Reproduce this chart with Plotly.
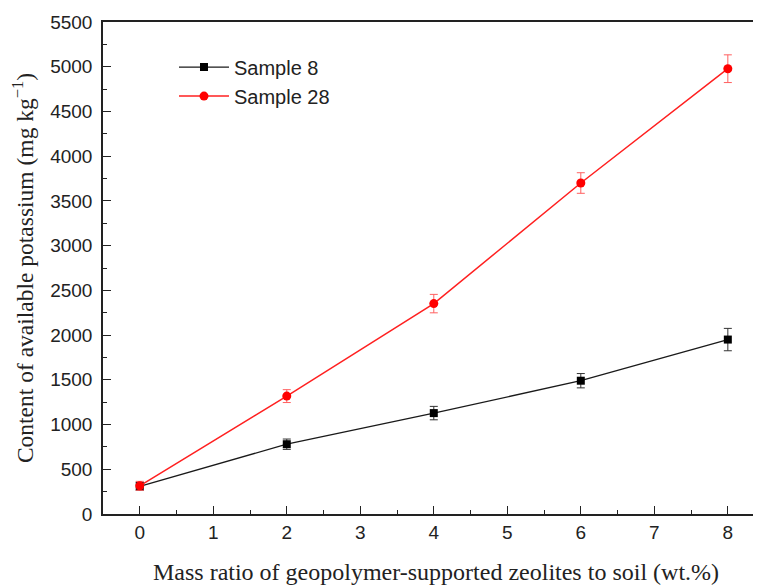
import plotly.graph_objects as go

x_vals = [0, 2, 4, 6, 8]
sample8 = [310, 780, 1128, 1490, 1950]
sample8_err = [45, 58, 75, 80, 125]
sample28 = [315, 1318, 2352, 3700, 4978]
sample28_err = [50, 72, 103, 115, 155]

fig = go.Figure()
fig.add_trace(go.Scatter(
    x=x_vals, y=sample8, name="Sample 8", mode="lines+markers",
    line=dict(color="#1a1a1a", width=1.3),
    marker=dict(symbol="square", size=8, color="black"),
    error_y=dict(type="data", array=sample8_err, visible=True, color="#333333", thickness=1, width=4),
))
fig.add_trace(go.Scatter(
    x=x_vals, y=sample28, name="Sample 28", mode="lines+markers",
    line=dict(color="#ff2020", width=1.5),
    marker=dict(symbol="circle", size=9, color="#ff0000"),
    error_y=dict(type="data", array=sample28_err, visible=True, color="#ff6060", thickness=1, width=4),
))

fig.update_layout(
    width=761, height=585,
    margin=dict(l=95, r=0, t=14, b=79),
    paper_bgcolor="white", plot_bgcolor="white",
    showlegend=True,
    legend=dict(x=0.1066, y=0.948, xanchor="left", yanchor="top", itemwidth=50,
                font=dict(family="Liberation Sans, Arial", size=20, color="#222"),
                bgcolor="rgba(0,0,0,0)", tracegroupgap=0),
    font=dict(family="Liberation Sans, Arial", color="#222"),
)
fig.update_xaxes(
    range=[-0.5, 8.56], tickmode="array", tickvals=list(range(0, 9)),
    automargin=False,
    showline=True, linecolor="#222", linewidth=1.5, mirror=True,
    ticks="inside", ticklen=8, tickcolor="#222", tickwidth=1.2,
    minor=dict(dtick=0.5, ticks="inside", ticklen=4, tickcolor="#222", tickwidth=1.2),
    showgrid=False, zeroline=False,
    tickfont=dict(family="Liberation Sans, Arial", size=19, color="#222"),
    title=dict(text="Mass ratio of geopolymer-supported zeolites to soil (wt.%)",
               font=dict(family="Liberation Serif, Times New Roman", size=24, color="#222"),
               standoff=22),
)
fig.update_yaxes(
    range=[0, 5500], tickmode="linear", tick0=0, dtick=500,
    automargin=False,
    showline=True, linecolor="#222", linewidth=1.5, mirror=False,
    ticks="inside", ticklen=8, tickcolor="#222", tickwidth=1.2,
    minor=dict(dtick=250, ticks="inside", ticklen=4, tickcolor="#222", tickwidth=1.2),
    showgrid=False, zeroline=False, ticklabelstandoff=5,
    tickfont=dict(family="Liberation Sans, Arial", size=19, color="#222"),
    title=dict(text="Content of available potassium (mg kg<sup>−1</sup>)",
               font=dict(family="Liberation Serif, Times New Roman", size=23.5, color="#222"),
               standoff=22),
)

fig.write_html("out.html")
